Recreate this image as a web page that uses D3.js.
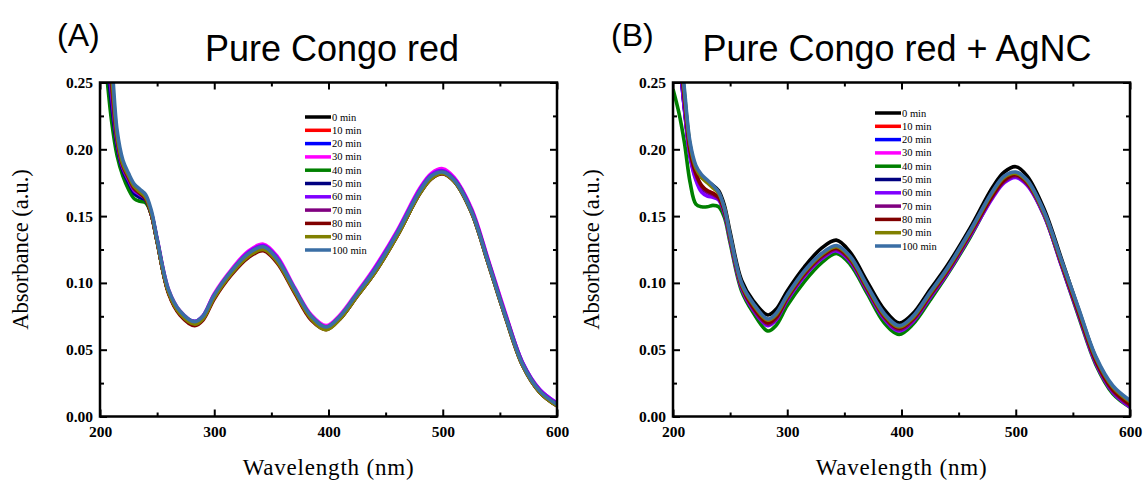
<!DOCTYPE html>
<html><head><meta charset="utf-8">
<script src="https://cdn.jsdelivr.net/npm/d3@7/dist/d3.min.js"></script>
<style>body{margin:0;background:#fff}svg{display:block}</style>
</head><body><svg id="c" width="1145" height="481"></svg>
<script>
const wavelengths=[200,205,210,215,220,225,230,235,240,245,250,260,270,283,290,300,315,330,343,355,370,385,398,410,425,440,460,480,490,500,510,525,540,555,570,585,600];
const seriesNames=["0 min","10 min","20 min","30 min","40 min","50 min","60 min","70 min","80 min","90 min","100 min"];
const seriesColors=["#000000","#ff0000","#0000ff","#ff00ff","#008000","#000080","#8000ff","#800080","#800000","#808000","#3a6ea5"];
const xTicks=[200,300,400,500,600];
const yTicks=[0.00,0.05,0.10,0.15,0.20,0.25];

// Panel A: Pure Congo red
const a0=[0.300,0.268,0.228,0.200,0.183,0.175,0.168,0.165,0.162,0.151,0.131,0.093,0.077,0.069,0.073,0.089,0.107,0.120,0.125,0.116,0.094,0.073,0.066,0.073,0.090,0.107,0.135,0.167,0.178,0.182,0.176,0.153,0.114,0.074,0.038,0.018,0.008];
const a10=[0.310,0.275,0.235,0.203,0.185,0.176,0.169,0.166,0.162,0.151,0.131,0.093,0.077,0.070,0.074,0.090,0.108,0.121,0.126,0.117,0.095,0.074,0.066,0.074,0.091,0.108,0.136,0.168,0.179,0.183,0.177,0.154,0.115,0.075,0.039,0.019,0.009];
const a20=[0.305,0.272,0.232,0.201,0.184,0.175,0.167,0.164,0.162,0.152,0.132,0.094,0.078,0.071,0.075,0.091,0.109,0.122,0.128,0.118,0.096,0.075,0.067,0.075,0.092,0.109,0.137,0.169,0.180,0.184,0.178,0.155,0.116,0.076,0.040,0.019,0.009];
const a30=[0.315,0.278,0.240,0.204,0.185,0.176,0.168,0.165,0.162,0.152,0.133,0.095,0.079,0.071,0.075,0.092,0.110,0.124,0.129,0.120,0.097,0.076,0.068,0.076,0.093,0.111,0.139,0.171,0.182,0.1855,0.179,0.156,0.117,0.077,0.040,0.020,0.010];
const a40=[0.295,0.262,0.222,0.195,0.180,0.170,0.163,0.161,0.160,0.151,0.131,0.093,0.077,0.070,0.074,0.090,0.108,0.121,0.126,0.117,0.095,0.074,0.066,0.074,0.091,0.108,0.136,0.168,0.179,0.183,0.177,0.154,0.115,0.075,0.039,0.019,0.009];
const a50=[0.308,0.274,0.235,0.202,0.184,0.175,0.167,0.164,0.162,0.151,0.131,0.093,0.077,0.070,0.074,0.090,0.108,0.121,0.126,0.117,0.095,0.074,0.066,0.074,0.091,0.108,0.136,0.168,0.179,0.183,0.177,0.154,0.115,0.075,0.039,0.019,0.009];
const a60=[0.315,0.280,0.242,0.205,0.186,0.177,0.169,0.166,0.163,0.152,0.132,0.094,0.078,0.071,0.075,0.091,0.109,0.123,0.128,0.119,0.096,0.075,0.067,0.075,0.092,0.110,0.138,0.170,0.181,0.184,0.178,0.155,0.116,0.076,0.040,0.020,0.010];
const a70=[0.320,0.284,0.246,0.206,0.187,0.178,0.170,0.167,0.163,0.152,0.132,0.093,0.077,0.070,0.074,0.090,0.108,0.121,0.126,0.117,0.095,0.074,0.066,0.074,0.091,0.108,0.136,0.168,0.179,0.183,0.177,0.154,0.115,0.075,0.039,0.019,0.009];
const a80=[0.325,0.290,0.252,0.208,0.188,0.179,0.171,0.167,0.163,0.151,0.131,0.092,0.076,0.068,0.072,0.088,0.106,0.119,0.124,0.115,0.093,0.072,0.065,0.073,0.090,0.107,0.135,0.167,0.178,0.1815,0.176,0.153,0.114,0.074,0.038,0.018,0.008];
const a90=[0.330,0.295,0.258,0.210,0.189,0.180,0.172,0.168,0.164,0.152,0.131,0.093,0.077,0.069,0.073,0.089,0.107,0.120,0.125,0.116,0.094,0.073,0.065,0.073,0.090,0.107,0.135,0.167,0.178,0.182,0.176,0.153,0.114,0.074,0.038,0.018,0.008];
const a100=[0.340,0.305,0.268,0.214,0.192,0.182,0.174,0.170,0.166,0.154,0.133,0.095,0.079,0.071,0.075,0.091,0.109,0.122,0.127,0.118,0.096,0.075,0.067,0.075,0.092,0.109,0.137,0.169,0.180,0.183,0.177,0.154,0.115,0.075,0.039,0.019,0.009];

// Panel B: Pure Congo red + AgNC
const b0=[0.320,0.285,0.240,0.202,0.186,0.179,0.176,0.173,0.169,0.158,0.138,0.102,0.087,0.076,0.080,0.094,0.112,0.126,0.132,0.123,0.101,0.080,0.070,0.077,0.095,0.113,0.141,0.172,0.183,0.187,0.180,0.155,0.118,0.080,0.044,0.021,0.010];
const b10=[0.310,0.275,0.232,0.196,0.180,0.172,0.169,0.167,0.164,0.154,0.134,0.098,0.083,0.071,0.075,0.089,0.107,0.120,0.126,0.118,0.096,0.075,0.066,0.073,0.091,0.109,0.137,0.167,0.178,0.182,0.176,0.152,0.115,0.078,0.042,0.020,0.009];
const b20=[0.305,0.272,0.230,0.195,0.179,0.171,0.168,0.166,0.163,0.153,0.133,0.097,0.082,0.070,0.074,0.088,0.106,0.119,0.125,0.117,0.095,0.074,0.065,0.072,0.090,0.108,0.136,0.166,0.177,0.181,0.175,0.151,0.114,0.077,0.041,0.019,0.008];
const b30=[0.312,0.276,0.233,0.195,0.178,0.170,0.167,0.165,0.163,0.153,0.133,0.097,0.082,0.070,0.074,0.088,0.106,0.119,0.125,0.117,0.095,0.074,0.065,0.072,0.090,0.108,0.136,0.166,0.177,0.181,0.175,0.151,0.114,0.077,0.041,0.019,0.008];
const b40=[0.245,0.228,0.205,0.175,0.159,0.157,0.157,0.158,0.157,0.149,0.130,0.094,0.078,0.064,0.068,0.083,0.101,0.115,0.122,0.114,0.092,0.070,0.0615,0.069,0.087,0.106,0.134,0.165,0.176,0.180,0.174,0.150,0.113,0.075,0.039,0.017,0.007];
const b50=[0.308,0.274,0.231,0.196,0.179,0.171,0.168,0.166,0.163,0.153,0.133,0.097,0.082,0.070,0.074,0.088,0.106,0.119,0.125,0.117,0.095,0.074,0.065,0.072,0.090,0.108,0.136,0.166,0.177,0.181,0.175,0.151,0.114,0.077,0.041,0.019,0.008];
const b60=[0.310,0.274,0.230,0.194,0.177,0.168,0.165,0.164,0.162,0.152,0.132,0.096,0.080,0.068,0.072,0.087,0.105,0.118,0.124,0.116,0.094,0.073,0.064,0.071,0.089,0.107,0.135,0.164,0.175,0.179,0.173,0.150,0.113,0.076,0.040,0.018,0.007];
const b70=[0.315,0.280,0.236,0.198,0.181,0.172,0.168,0.166,0.163,0.153,0.133,0.097,0.081,0.069,0.073,0.088,0.106,0.119,0.125,0.117,0.095,0.074,0.065,0.072,0.090,0.108,0.136,0.165,0.176,0.180,0.174,0.151,0.114,0.077,0.041,0.019,0.008];
const b80=[0.318,0.282,0.238,0.199,0.182,0.173,0.169,0.167,0.164,0.154,0.134,0.098,0.082,0.070,0.074,0.089,0.107,0.120,0.126,0.118,0.096,0.075,0.066,0.073,0.091,0.109,0.137,0.166,0.177,0.181,0.175,0.152,0.115,0.078,0.042,0.020,0.009];
const b90=[0.322,0.286,0.242,0.203,0.186,0.179,0.175,0.171,0.167,0.156,0.135,0.099,0.084,0.072,0.076,0.090,0.108,0.121,0.127,0.119,0.097,0.076,0.067,0.074,0.092,0.110,0.138,0.168,0.179,0.182,0.176,0.152,0.116,0.080,0.044,0.022,0.011];
const b100=[0.330,0.290,0.245,0.205,0.188,0.181,0.177,0.173,0.168,0.156,0.136,0.100,0.085,0.073,0.077,0.091,0.109,0.122,0.128,0.120,0.098,0.077,0.068,0.075,0.093,0.111,0.139,0.169,0.180,0.183,0.177,0.153,0.117,0.081,0.045,0.023,0.012];

const panels=[
  {id:"A",label:"(A)",title:"Pure Congo red",x0:100,x1:557,labelX:57,titleX:332,yLabelX:28,
   series:[a0,a10,a20,a30,a40,a50,a60,a70,a80,a90,a100],legX:305,legY:117},
  {id:"B",label:"(B)",title:"Pure Congo red + AgNC",x0:673,x1:1130,labelX:611,titleX:897,yLabelX:599,
   series:[b0,b10,b20,b30,b40,b50,b60,b70,b80,b90,b100],legX:875,legY:113}
];
const yTop=82.5,yBot=416.5;
const svg=d3.select("#c");
const serif="'Liberation Serif','Times New Roman',serif";
const sans="'Liberation Sans',Arial,sans-serif";

panels.forEach(p=>{
  const x=d3.scaleLinear().domain([200,600]).range([p.x0,p.x1]);
  const y=d3.scaleLinear().domain([0,0.25]).range([yBot,yTop]);
  const g=svg.append("g");
  g.append("text").attr("x",p.labelX).attr("y",46).attr("font-family",sans).attr("font-size",32).text(p.label);
  g.append("text").attr("x",p.titleX).attr("y",61).attr("text-anchor","middle").attr("font-family",sans).attr("font-size",36).text(p.title);

  const clipId="clip"+p.id;
  svg.append("clipPath").attr("id",clipId).append("rect").attr("x",p.x0).attr("y",yTop).attr("width",p.x1-p.x0).attr("height",yBot-yTop);

  const line=d3.line().x((d,i)=>x(wavelengths[i])).y(d=>y(d)).curve(d3.curveCatmullRom.alpha(0.5));
  const lines=g.append("g").attr("clip-path",`url(#${clipId})`);
  p.series.forEach((s,i)=>{
    lines.append("path").attr("d",line(s)).attr("fill","none").attr("stroke",seriesColors[i]).attr("stroke-width",3.6).attr("stroke-linejoin","round");
  });

  const axB=d3.axisBottom(x).tickValues(xTicks).tickSize(-7).tickPadding(9).tickFormat(d3.format("d"));
  const axBm=d3.axisBottom(x).tickValues([250,350,450,550]).tickSize(-4).tickFormat("");
  const axT=d3.axisTop(x).tickValues(xTicks).tickSize(-7).tickFormat("");
  const axTm=d3.axisTop(x).tickValues([250,350,450,550]).tickSize(-4).tickFormat("");
  const axL=d3.axisLeft(y).tickValues(yTicks).tickSize(-7).tickPadding(7).tickFormat(d3.format(".2f"));
  const axLm=d3.axisLeft(y).tickValues([0.025,0.075,0.125,0.175,0.225]).tickSize(-4).tickFormat("");
  const axR=d3.axisRight(y).tickValues(yTicks).tickSize(-7).tickFormat("");
  const axRm=d3.axisRight(y).tickValues([0.025,0.075,0.125,0.175,0.225]).tickSize(-4).tickFormat("");
  const style=sel=>{sel.selectAll("line").attr("stroke","#000").attr("stroke-width",2);
    sel.selectAll("text").attr("font-family",serif).attr("font-weight","bold").attr("font-size",15.5).attr("fill","#000");};
  [[axB,`translate(0,${yBot})`],[axBm,`translate(0,${yBot})`],[axT,`translate(0,${yTop})`],[axTm,`translate(0,${yTop})`],
   [axL,`translate(${p.x0},0)`],[axLm,`translate(${p.x0},0)`],[axR,`translate(${p.x1},0)`],[axRm,`translate(${p.x1},0)`]]
   .forEach(([ax,tr])=>{const a=g.append("g").attr("transform",tr).call(ax);style(a);a.select(".domain").remove();});
  g.append("rect").attr("x",p.x0).attr("y",yTop).attr("width",p.x1-p.x0).attr("height",yBot-yTop).attr("fill","none").attr("stroke","#000").attr("stroke-width",2.5);

  g.append("text").attr("x",(p.x0+p.x1)/2).attr("y",475).attr("text-anchor","middle").attr("font-family",serif).attr("font-size",23).attr("letter-spacing",0.8).text("Wavelength (nm)");
  g.append("text").attr("transform",`translate(${p.yLabelX},${(yTop+yBot)/2}) rotate(-90)`).attr("text-anchor","middle").attr("font-family",serif).attr("font-size",22.5).text("Absorbance (a.u.)");

  const leg=g.append("g");
  seriesNames.forEach((n,i)=>{
    const yy=p.legY+i*13.3;
    leg.append("line").attr("x1",p.legX).attr("x2",p.legX+26).attr("y1",yy).attr("y2",yy).attr("stroke",seriesColors[i]).attr("stroke-width",3.5);
    leg.append("text").attr("x",p.legX+27).attr("y",yy+3.5).attr("font-family",serif).attr("font-size",10.5).text(n);
  });
});
</script></body></html>
